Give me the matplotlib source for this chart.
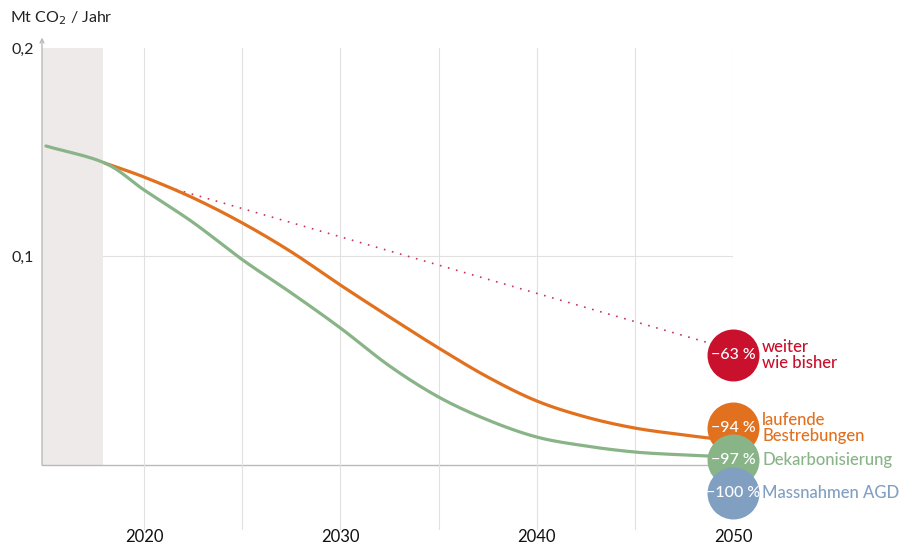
import numpy as np
import matplotlib
matplotlib.use("Agg")
import matplotlib.pyplot as plt

plt.rcParams['font.family'] = ['Lato', 'DejaVu Sans']

# ---- data ----
hist_years = [2015, 2018]
hist_values = [0.153, 0.1448]

years = [2018, 2020, 2022.5, 2025, 2027.5, 2030, 2032.5, 2035, 2037.5, 2040, 2042.5, 2045, 2047.5, 2050]
laufend = [0.1448, 0.1381, 0.1281, 0.1161, 0.1022, 0.0863, 0.0710, 0.0561, 0.0422, 0.0307, 0.0230, 0.0177, 0.0144, 0.0115]
dekarb = [0.1448, 0.1319, 0.1163, 0.0985, 0.0825, 0.0657, 0.0475, 0.0326, 0.0216, 0.0134, 0.0091, 0.0062, 0.0048, 0.0038]

bau_years = [2021.2, 2050]
bau_values = [0.1333, 0.0552]

badge_texts = ['−63 %', '−94 %', '−97 %', '−100 %']
series_labels = ['weiter\nwie bisher', 'laufende\nBestrebungen', 'Dekarbonisierung', 'Massnahmen AGD']
badge_y = [0.0528, 0.0177, 0.0024, -0.0134]

x_ticks = [2020, 2030, 2040, 2050]
x_ticklabels = ['2020', '2030', '2040', '2050']
x_minor = [2025, 2035, 2045]
y_ticks = [0.1, 0.2]
y_ticklabels = ['0,1', '0,2']

RED = '#C9102C'
ORANGE = '#E2711F'
GREEN = '#88B488'
BLUE = '#819FC1'
DOTS = '#C4385A'
colors = [RED, ORANGE, GREEN, BLUE]


def smooth(x, y, n=20):
    x = np.asarray(x, float); y = np.asarray(y, float)
    xp = np.concatenate([[2 * x[0] - x[1]], x, [2 * x[-1] - x[-2]]])
    yp = np.concatenate([[2 * y[0] - y[1]], y, [2 * y[-1] - y[-2]]])
    xs, ys = [], []
    for i in range(1, len(xp) - 2):
        t = np.linspace(0, 1, n, endpoint=False)
        for arr, out in ((xp, xs), (yp, ys)):
            p0, p1, p2, p3 = arr[i - 1], arr[i], arr[i + 1], arr[i + 2]
            out.extend(0.5 * ((2 * p1) + (-p0 + p2) * t + (2 * p0 - 5 * p1 + 4 * p2 - p3) * t ** 2
                              + (-p0 + 3 * p1 - 3 * p2 + p3) * t ** 3))
    xs.append(x[-1]); ys.append(y[-1])
    return np.array(xs), np.array(ys)


fig = plt.figure(figsize=(8.99, 5.44), dpi=100)
ax = fig.add_axes([42 / 899, 1 - 530 / 544, (733 - 42) / 899, 482 / 544])
X0 = 2014.8
ax.set_xlim(X0, 2050)
ax.set_ylim(-0.0312, 0.2)
for s in ax.spines.values():
    s.set_visible(False)

# grid
ax.set_xticks(x_ticks)
ax.set_xticks(x_minor, minor=True)
ax.set_xticklabels([])
ax.grid(axis='x', which='both', color='#e3e0e0', lw=0.8, zorder=0)
ax.tick_params(axis='x', which='both', length=0)
for xt, lab in zip(x_ticks, x_ticklabels):
    ax.text(xt, -14.5 / 482, lab, transform=ax.get_xaxis_transform(), ha='center',
            va='bottom', fontsize=12, color='#111111', clip_on=False)
ax.set_yticks(y_ticks)
ax.set_yticklabels(y_ticklabels)
ax.tick_params(axis='y', length=0, pad=6, labelsize=11.5, labelcolor='#222222')
ax.plot([X0, 2050], [0.1, 0.1], color='#e3e0e0', lw=0.8, zorder=0.5)

# shaded historic band
ax.fill_between([X0, 2017.9], 0, 0.2, color='#EEEAE9', lw=0, zorder=0.6)

# axes lines
ax.plot([X0, 2050], [0, 0], color='#bdb8b8', lw=1.0, zorder=1, clip_on=False)
ax.annotate('', xy=(X0, 0.205), xytext=(X0, 0), xycoords='data',
            arrowprops=dict(arrowstyle='->', color='#bdb8b8', lw=1.0, shrinkA=0, shrinkB=0,
                            mutation_scale=7), annotation_clip=False, zorder=1)

# lines
ax.plot(bau_years, bau_values, color=DOTS, lw=1.2, ls=(0, (1, 4)), zorder=2)
xs, ys = smooth(years, laufend)
ax.plot(xs, ys, color=ORANGE, lw=2.3, zorder=3, solid_capstyle='round')
xs, ys = smooth(hist_years + years[1:], hist_values + dekarb[1:])
ax.plot(xs, ys, color=GREEN, lw=2.3, zorder=3, solid_capstyle='round')

# badges
for i, (txt, lab, yv, c) in enumerate(zip(badge_texts, series_labels, badge_y, colors)):
    ax.scatter([2050], [yv], s=1400, color=c, zorder=5 + i, clip_on=False, linewidths=0)
    ax.text(2050, yv, txt, color='white', ha='center', va='center', fontsize=11.5,
            fontweight='medium', zorder=5 + i, clip_on=False)
    ax.annotate(lab, xy=(2050, yv), xytext=(21, 0), textcoords='offset points',
                color=c, ha='left', va='center', fontsize=12, linespacing=1.05,
                fontweight='medium', zorder=5 + i, annotation_clip=False)

fig.text(10 / 899, 1 - 18 / 544, 'Mt CO$_2$ / Jahr', fontsize=11.5, color='#222222',
         ha='left', va='center')

fig.savefig('out.png', dpi=100)
